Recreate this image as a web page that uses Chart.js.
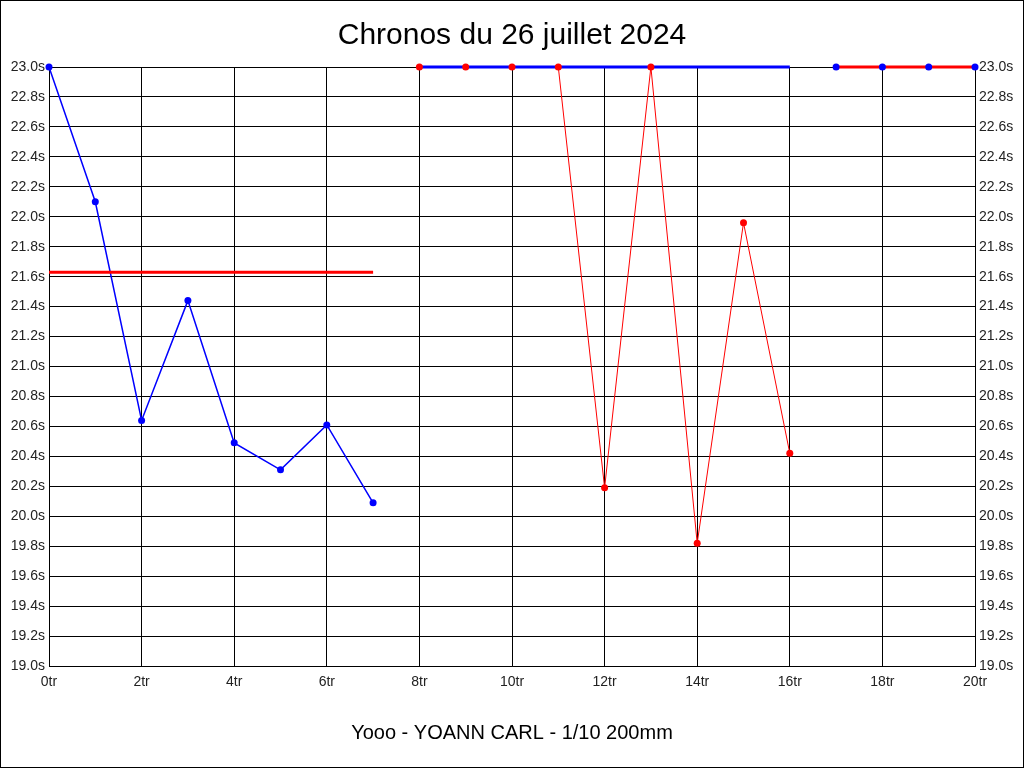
<!DOCTYPE html>
<html>
<head>
<meta charset="utf-8">
<script src="https://cdn.jsdelivr.net/npm/chart.js@4/dist/chart.umd.min.js"></script>
<style>
  body { margin: 0; background: #fff; }
</style>
</head>
<body>
<canvas id="myChart" width="1024" height="768"></canvas>
<script>
// chronos, one value per tour
var run1Tours = [0, 1, 2, 3, 4, 5, 6, 7];
var run1Temps = [23.0, 22.1, 20.64, 21.44, 20.49, 20.31, 20.61, 20.09];
var run1Moy = 21.63;

var run2Tours = [8, 9, 10, 11, 12, 13, 14, 15, 16];
var run2Temps = [23.0, 23.0, 23.0, 23.0, 20.19, 23.0, 19.82, 21.96, 20.42];
var run2Moy = 23.0;

var run3Tours = [17, 18, 19, 20];
var run3Temps = [23.0, 23.0, 23.0, 23.0];
var run3Moy = 23.0;

var yMin = 19.0, yMax = 23.0, yStep = 0.2;
var xMin = 0, xMax = 20, xStep = 2;

var BLUE = '#0000ff';
var RED = '#ff0000';

function pts(tours, temps) {
    var out = [];
    for (var i in tours) {
        out.push({x: tours[i], y: temps[i]});
    }
    return out;
}
function moyLine(tours, moy) {
    return [{x: tours[0], y: moy}, {x: tours[tours.length - 1], y: moy}];
}

function runLine(data, color, width) {
    return { data: data, borderColor: color, borderWidth: width, pointRadius: 0, clip: false, order: 3 };
}
function runPoints(data, color) {
    return { data: data, showLine: false, pointRadius: 3.5, pointBorderWidth: 0,
             pointBackgroundColor: color, borderColor: color, clip: false, order: 1 };
}
function avgLine(data, color) {
    return { data: data, borderColor: color, borderWidth: 3, pointRadius: 0, clip: false, order: 2 };
}

var frame = {
    id: 'frame',
    afterDraw: function (chart) {
        var c = chart.ctx;
        c.save();
        c.strokeStyle = '#000';
        c.lineWidth = 1;
        c.strokeRect(0.5, 0.5, chart.width - 1, chart.height - 1);
        c.restore();
    }
};

var tickFont = { family: 'Liberation Sans, Arial, sans-serif', size: 14 };

new Chart(document.getElementById('myChart'), {
    type: 'line',
    data: {
        datasets: [
            runLine(pts(run1Tours, run1Temps), BLUE, 1.5),
            runPoints(pts(run1Tours, run1Temps), BLUE),
            avgLine(moyLine(run1Tours, run1Moy), RED),
            runLine(pts(run2Tours, run2Temps), RED, 1),
            runPoints(pts(run2Tours, run2Temps), RED),
            avgLine(moyLine(run2Tours, run2Moy), BLUE),
            runLine(pts(run3Tours, run3Temps), BLUE, 1),
            runPoints(pts(run3Tours, run3Temps), BLUE),
            avgLine(moyLine(run3Tours, run3Moy), RED)
        ]
    },
    options: {
        responsive: false,
        animation: false,
        layout: { padding: 0 },
        plugins: {
            legend: { display: false },
            tooltip: { enabled: false },
            title: {
                display: true,
                text: 'Chronos du 26 juillet 2024',
                color: '#000',
                font: { family: 'Liberation Sans, Arial, sans-serif', size: 30, weight: 'normal' },
                padding: { top: 18, bottom: 13 }
            },
            subtitle: {
                display: true,
                position: 'bottom',
                text: 'Yooo - YOANN CARL - 1/10 200mm',
                color: '#000',
                font: { family: 'Liberation Sans, Arial, sans-serif', size: 20, weight: 'normal' },
                padding: { top: 10, bottom: 23 }
            }
        },
        scales: {
            x: {
                type: 'linear',
                min: xMin,
                max: xMax,
                grid: { color: '#000', drawTicks: false },
                border: { color: '#000' },
                ticks: {
                    stepSize: xStep,
                    padding: 8,
                    color: '#222',
                    font: tickFont,
                    maxRotation: 0,
                    callback: function (v) { return v + 'tr'; }
                },
                afterFit: function (s) { s.height = 45; }
            },
            y: {
                min: yMin,
                max: yMax,
                grid: { color: '#000', drawTicks: false },
                border: { color: '#000' },
                ticks: {
                    stepSize: yStep,
                    padding: 4,
                    color: '#222',
                    font: tickFont,
                    callback: function (v) { return v.toFixed(1) + 's'; }
                },
                afterFit: function (s) { s.width = 49; }
            },
            y2: {
                position: 'right',
                min: yMin,
                max: yMax,
                grid: { display: false, drawTicks: false },
                border: { color: '#000' },
                ticks: {
                    stepSize: yStep,
                    padding: 4,
                    color: '#222',
                    font: tickFont,
                    callback: function (v) { return v.toFixed(1) + 's'; }
                },
                afterFit: function (s) { s.width = 49; }
            }
        }
    },
    plugins: [frame]
});
</script>
</body>
</html>
